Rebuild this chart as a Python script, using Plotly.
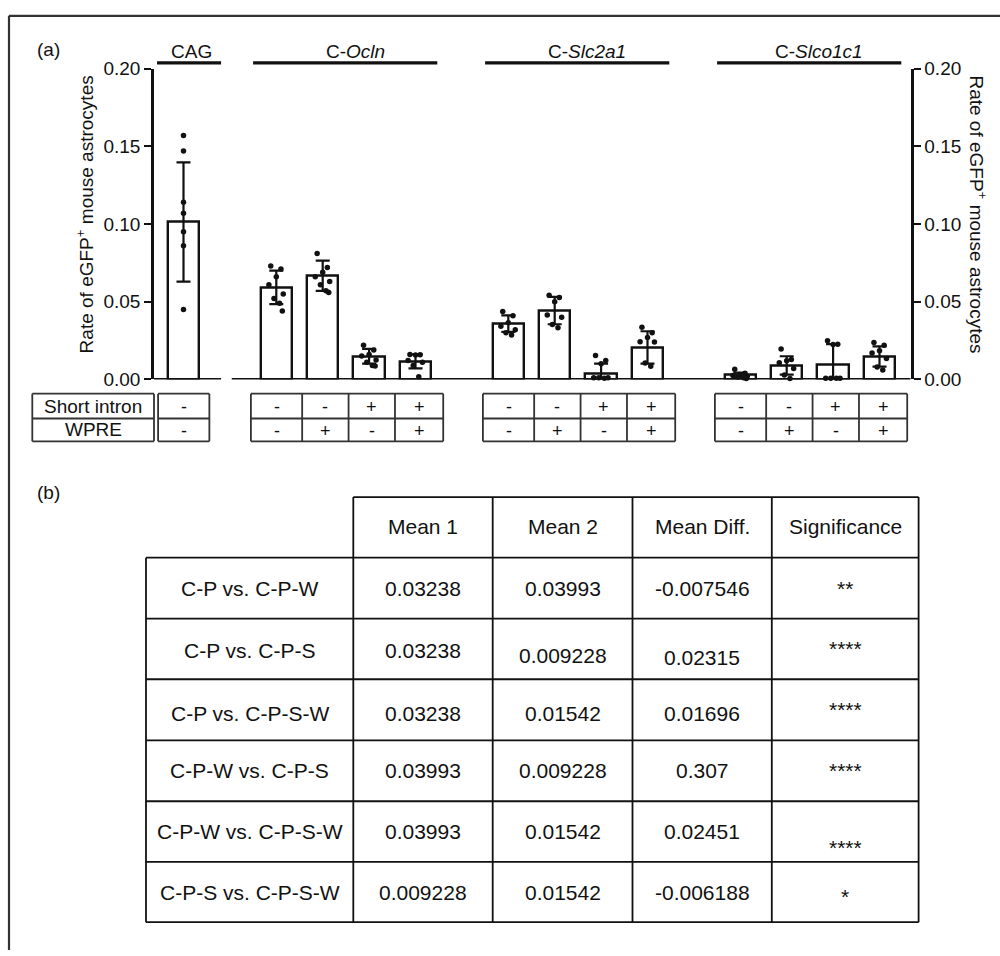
import plotly.graph_objects as go

W, H = 1000, 956
FONT = "Liberation Sans, Arial, Helvetica, sans-serif"
INK = "#111111"

# ---------------- data (panel a) ----------------
group_labels = ["CAG", "C-<i>Ocln</i>", "C-<i>Slc2a1</i>", "C-<i>Slco1c1</i>"]
group_sizes = [1, 4, 4, 4]
short_intron = ["-", "-", "-", "+", "+", "-", "-", "+", "+", "-", "-", "+", "+"]
wpre = ["-", "-", "+", "-", "+", "-", "+", "-", "+", "-", "+", "-", "+"]

means = [0.1013, 0.0592, 0.0667, 0.0149, 0.0116,
         0.0359, 0.0443, 0.0038, 0.0206,
         0.0028, 0.0090, 0.0093, 0.0147]
sds = [0.0384, 0.0108, 0.0097, 0.0047, 0.0045,
       0.0053, 0.0088, 0.0063, 0.0104,
       0.0015, 0.0059, 0.0134, 0.0065]
dots = [
    [0.157, 0.147, 0.114, 0.107, 0.095, 0.086, 0.045],
    [0.073, 0.071, 0.066, 0.061, 0.055, 0.052, 0.049, 0.044],
    [0.081, 0.072, 0.069, 0.066, 0.063, 0.061, 0.057, 0.056],
    [0.022, 0.019, 0.016, 0.015, 0.0125, 0.011, 0.009, 0.0086],
    [0.016, 0.0159, 0.0157, 0.0121, 0.011, 0.009, 0.0017],
    [0.0437, 0.041, 0.0365, 0.0342, 0.032, 0.030, 0.0286],
    [0.0541, 0.0527, 0.050, 0.0415, 0.040, 0.0353, 0.0332],
    [0.0154, 0.0122, 0.0101, 0.001, 0.001, 0.001, 0.0008],
    [0.0336, 0.030, 0.0269, 0.0242, 0.024, 0.0105, 0.0084],
    [0.0065, 0.004, 0.003, 0.0025, 0.002, 0.0015, 0.001, 0.0005],
    [0.0195, 0.0128, 0.012, 0.0107, 0.007, 0.0028, 0.0005],
    [0.0248, 0.0227, 0.0225, 0.0008, 0.0008, 0.0008, 0.0008],
    [0.0237, 0.022, 0.0185, 0.017, 0.0135, 0.008, 0.006],
]
y_ticks = [0.0, 0.05, 0.10, 0.15, 0.20]
y_tick_text = ["0.00", "0.05", "0.10", "0.15", "0.20"]
y_title = "Rate of eGFP<sup>+</sup> mouse astrocytes"

# ---------------- data (panel b) ----------------
table_header = ["", "Mean 1", "Mean 2", "Mean Diff.", "Significance"]
comparisons = ["C-P vs. C-P-W", "C-P vs. C-P-S", "C-P vs. C-P-S-W",
               "C-P-W vs. C-P-S", "C-P-W vs. C-P-S-W", "C-P-S vs. C-P-S-W"]
mean1 = ["0.03238", "0.03238", "0.03238", "0.03993", "0.03993", "0.009228"]
mean2 = ["0.03993", "0.009228", "0.01542", "0.009228", "0.01542", "0.01542"]
mean_diff = ["-0.007546", "0.02315", "0.01696", "0.307", "0.02451", "-0.006188"]
significance = ["**", "****", "****", "****", "****", "*"]

# ---------------- layout helpers ----------------
def px(x):
    return x / W

def py(y):
    return 1 - y / H

# bar positions: groups separated by one empty slot
positions = []
start = 0
for n in group_sizes:
    positions.append([start + i for i in range(n)])
    start += n + 1
flat_pos = [p for g in positions for p in g]

UNIT = 46.4      # px per slot
X0PX = 183.5     # px of slot 0
AX_L, AX_R = 154.0, 910.7
AX_T, AX_B = 60.0, 377.7
xr = [(AX_L - X0PX) / UNIT, (AX_R - X0PX) / UNIT]

jitter = [-0.12, 0.1, 0.0, -0.16, 0.15, -0.05, 0.07, 0.13]

fig = go.Figure()

err_minus = [min(s, m) for s, m in zip(sds, means)]
fig.add_trace(go.Bar(
    x=flat_pos, y=means, width=0.68,
    marker=dict(color="white", line=dict(color=INK, width=2.4)),
    error_y=dict(type="data", symmetric=False, array=sds, arrayminus=err_minus,
                 color=INK, thickness=2.2, width=7),
    cliponaxis=False, showlegend=False, hoverinfo="skip",
))

dx, dy = [], []
for i, (p, vals) in enumerate(zip(flat_pos, dots)):
    for j, v in enumerate(vals):
        dx.append(p + (0 if i == 0 else jitter[j % len(jitter)]))
        dy.append(v)
fig.add_trace(go.Scatter(
    x=dx, y=dy, mode="markers",
    marker=dict(color=INK, size=5.5),
    cliponaxis=False, showlegend=False, hoverinfo="skip",
))
# invisible trace to activate right axis
fig.add_trace(go.Scatter(x=[flat_pos[0]], y=[0], yaxis="y2", mode="markers",
                         marker=dict(opacity=0), showlegend=False, hoverinfo="skip"))

shapes = []
annotations = []

def line(x0, y0, x1, y1, xref="paper", yref="paper", w=2.0, color=INK):
    shapes.append(dict(type="line", x0=x0, y0=y0, x1=x1, y1=y1, xref=xref, yref=yref,
                       line=dict(color=color, width=w), layer="above"))

def text(x, y, s, size=19, xref="paper", yref="paper", angle=0, xanchor="center"):
    annotations.append(dict(x=x, y=y, xref=xref, yref=yref, text=s, showarrow=False,
                            textangle=angle, xanchor=xanchor, yanchor="middle",
                            font=dict(family=FONT, size=size, color=INK)))

# outer frame (left and top)
line(px(9), py(6), px(9), py(H + 5), w=2.2, color="#333333")
line(px(9), py(6), px(W + 5), py(6), w=2.2, color="#333333")

# panel labels
text(px(35), py(40), "(a)", xanchor="left")
text(px(35), py(493), "(b)", xanchor="left")

# broken baseline
line(xr[0], 0, 0.81, 0, xref="x", yref="y", w=2.6)
line(1.04, 0, xr[1], 0, xref="x", yref="y", w=2.6)

# group header lines and labels
for gi, (g, lab) in enumerate(zip(positions, group_labels)):
    if gi == 0:
        a, b = g[0] - 0.57, g[-1] + 0.81
    else:
        a, b = g[0] - 0.5, g[-1] + 0.47
    line(a, py(54), b, py(54), xref="x", w=3.2)
    text((a + b) / 2 + (0.05 if gi == 0 else 0.22), py(42), lab, xref="x")

# y titles
text(px(85), py(209), y_title, angle=-90)
text(px(978), py(209), y_title, angle=90)

# condition table under bars
R0, R1, R2 = 392.3, 417.7, 441.0
LW = 1.8
GRAY = "#333333"
# label box
lx0, lx1 = 32.3, 154.0
for yy in (R0, R1, R2):
    line(px(lx0), py(yy), px(lx1), py(yy), w=LW, color=GRAY)
for xx in (lx0, lx1):
    line(px(xx), py(R0), px(xx), py(R2), w=LW, color=GRAY)
text(px((lx0 + lx1) / 2), py((R0 + R1) / 2), "Short intron")
text(px((lx0 + lx1) / 2), py((R1 + R2) / 2), "WPRE")

CW = 1.055
k = 0
for g in positions:
    left = g[0] - CW / 2 - 0.02
    right = g[-1] + CW / 2 + (0.07 if len(g) > 1 else 0.03)
    for yy in (R0, R1, R2):
        line(left, py(yy), right, py(yy), xref="x", w=LW, color=GRAY)
    edges = [left] + [g[i] + CW / 2 + 0.03 for i in range(len(g) - 1)] + [right]
    for xx in edges:
        line(xx, py(R0), xx, py(R2), xref="x", w=LW, color=GRAY)
    for i in range(len(g)):
        cx = (edges[i] + edges[i + 1]) / 2
        text(cx, py((R0 + R1) / 2 + 1), short_intron[k], size=18, xref="x")
        text(cx, py((R1 + R2) / 2 + 1), wpre[k], size=18, xref="x")
        k += 1

# statistics table (panel b)
cols = [146.0, 353.3, 492.7, 632.5, 771.8, 918.6]
rows = [498.0, 560.0, 622.3, 684.3, 746.7, 809.0, 871.0, 932.7]
TW = 1.8
line(px(cols[1]), py(rows[0]), px(cols[-1]), py(rows[0]), w=TW)
for yy in rows[1:]:
    line(px(cols[0]), py(yy), px(cols[-1]), py(yy), w=TW)
line(px(cols[0]), py(rows[1]), px(cols[0]), py(rows[-1]), w=TW)
for xx in cols[1:]:
    line(px(xx), py(rows[0]), px(xx), py(rows[-1]), w=TW)

TS = 21
for c in range(1, 5):
    text(px((cols[c] + cols[c + 1]) / 2), py((rows[0] + rows[1]) / 2 - 1), table_header[c], size=TS)

nudge = {(1, 2): 7, (1, 3): 9, (1, 0): 2, (1, 1): 2, (2, 0): 4, (2, 1): 4, (2, 2): 4, (2, 3): 4,
         (4, 4): 16, (5, 4): 5, (0, 4): 0}
for r in range(len(comparisons)):
    vals = [comparisons[r], mean1[r], mean2[r], mean_diff[r], significance[r]]
    for c, v in enumerate(vals):
        cy = (rows[r + 1] + rows[r + 2]) / 2 + nudge.get((r, c), 0)
        text(px((cols[c] + cols[c + 1]) / 2), py(cy), v, size=TS)

axis_common = dict(
    range=[0, 0.2], tickvals=y_ticks, ticktext=y_tick_text,
    showline=True, linecolor=INK, linewidth=2.6,
    ticks="outside", ticklen=7, tickwidth=2.4, tickcolor=INK,
    tickfont=dict(family=FONT, size=19, color=INK),
    showgrid=False, zeroline=False, fixedrange=True,
    domain=[py(AX_B), py(AX_T)],
)

fig.update_layout(
    width=W, height=H, autosize=False,
    margin=dict(l=0, r=0, t=0, b=0),
    paper_bgcolor="white", plot_bgcolor="rgba(0,0,0,0)",
    showlegend=False, bargap=0,
    font=dict(family=FONT, color=INK),
    xaxis=dict(domain=[px(AX_L), px(AX_R)], range=xr, visible=False, fixedrange=True),
    yaxis=dict(anchor="x", side="left", **axis_common),
    yaxis2=dict(anchor="x", side="right", overlaying="y", **axis_common),
    shapes=shapes, annotations=annotations,
)

fig.write_html("out.html", config={"displayModeBar": False},
               post_script="document.body.style.margin='0px';document.body.style.overflow='hidden';")
